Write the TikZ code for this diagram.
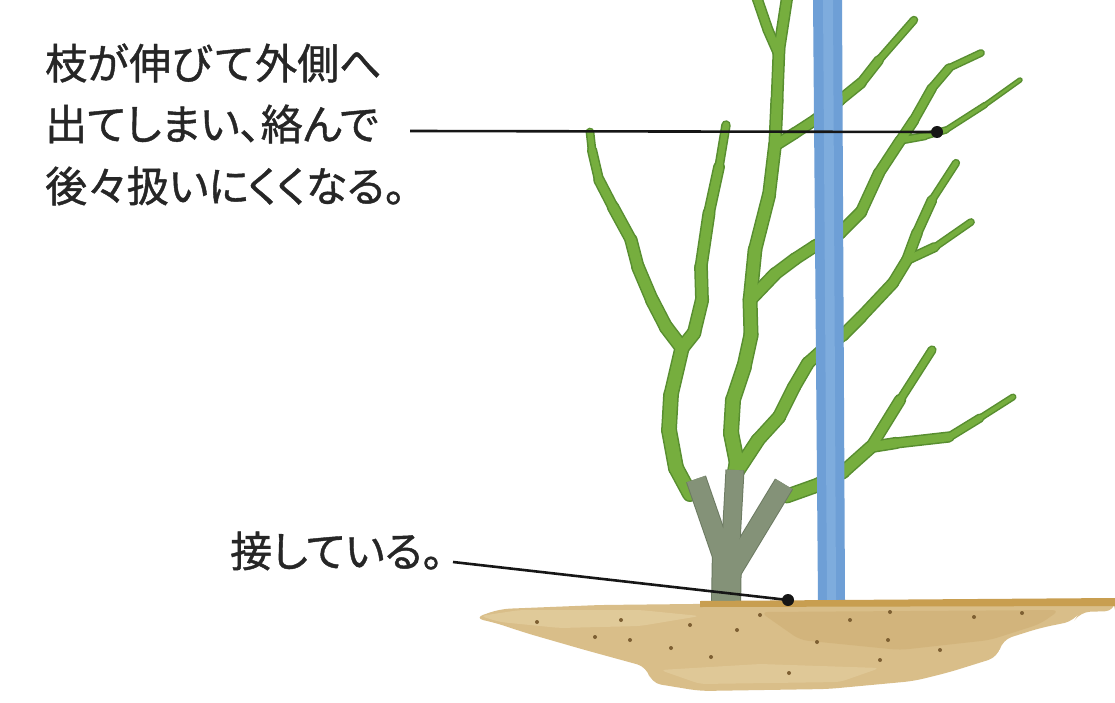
\documentclass[tikz,border=0pt]{standalone}
\usepackage{fontspec}
\newfontfamily\jpfont[FakeBold=1]{Noto Sans CJK JP}
\newfontfamily\jppfont[RawFeature=+palt,FakeBold=1]{Noto Sans CJK JP}

\definecolor{stemgreen}{RGB}{118,174,62}
\definecolor{stemdark}{RGB}{88,142,48}
\definecolor{trunkgrey}{RGB}{132,146,120}
\definecolor{trunkdark}{RGB}{108,122,98}
\definecolor{poleblue}{RGB}{110,159,214}
\definecolor{polelight}{RGB}{146,188,230}
\definecolor{soil}{RGB}{217,190,137}
\definecolor{soillight}{RGB}{230,210,165}
\definecolor{soildeep}{RGB}{204,172,112}
\definecolor{soilrim}{RGB}{200,158,80}
\definecolor{speck}{RGB}{125,95,50}
\definecolor{ink}{RGB}{22,22,22}
\definecolor{textgrey}{RGB}{38,38,38}

% a tapering stem: list of x/y/width, drawn segment by segment
\newcommand\stemline[3]{%
  \foreach \x/\y/\w [remember=\x as \px (initially 0),
                     remember=\y as \py (initially 0),
                     remember=\w as \pw (initially 0), count=\i] in #3 {%
    \ifnum\i>1
      \draw[#2, line cap=round, line join=round,
            line width={(\pw+\w)/2+#1}] (\px,\py) -- (\x,\y);
    \fi
  }}

% branch data (x/y/width)
\def\brLeft{690/494/13, 676/468/13, 669/430/13, 671/395/12.5, 682/348/12}
\def\brLL{682/348/12, 666/327/11.5, 652/300/11, 638/267/10.5, 631/240/10, 613/207/9, 599/180/8, 592/150/6.5, 590/132/5}
\def\brLR{682/348/12, 694/333/11.5, 702/300/11, 701/267/10.5, 709/213/9.5, 719/167/8, 726/125/5}
\def\brMid{735/474/14, 737/463/13.5, 731/433/13, 733/400/13, 744/367/12.5, 751/335/12, 750/300/12, 755/250/11.5, 769/195/11, 775/145/10.5, 777/100/10, 779/50/9.5, 787/-2/9}
\def\brTop{779/55/8, 768/30/8, 757/-2/8}
\def\brOne{752/298/11, 775/274/10.5, 795/259/10, 815/246/10, 840/233/10, 861/212/9.5, 879/173/9, 900/141/8.5, 914/120/8, 932/88/7, 949/68/6, 981/53/3.5}
\def\brTwig{903/140/6, 925/136/5, 946/130/4, 985/105/3, 1020/80/2}
\def\brTwo{776/145/9.5, 795/133/9, 815/120/9, 840/100/9, 861/83/8, 879/60/7, 914/20/4}
\def\brThree{737/472/12, 758/440/11.5, 779/417/11, 794/387/11, 808/363/10.5, 828/345/10, 843/335/10, 861/317/9.5, 893/283/9, 907/260/9}
\def\brThreeUp{907/260/9, 917/233/8.5, 932/200/7, 956/163/3.5}
\def\brThreeRt{907/260/8, 935/247/6.5, 971/222/3}
\def\brFour{787/496/12, 815/486/11.5, 843/472/11, 871/447/10.5}
\def\brFourUp{871/447/10, 900/400/8.5, 932/350/4}
\def\brFourRt{871/447/9.5, 896/443/9, 949/437/7.5, 980/418/5, 1013/397/3}

\newcommand\allbranches[2]{%
  \stemline{#1}{#2}{\brLeft}\stemline{#1}{#2}{\brLL}\stemline{#1}{#2}{\brLR}%
  \stemline{#1}{#2}{\brMid}\stemline{#1}{#2}{\brTop}%
  \stemline{#1}{#2}{\brOne}\stemline{#1}{#2}{\brTwig}\stemline{#1}{#2}{\brTwo}%
  \stemline{#1}{#2}{\brThree}\stemline{#1}{#2}{\brThreeUp}\stemline{#1}{#2}{\brThreeRt}%
  \stemline{#1}{#2}{\brFour}\stemline{#1}{#2}{\brFourUp}\stemline{#1}{#2}{\brFourRt}}

\begin{document}
\begin{tikzpicture}[x=1pt,y=-1pt,
  leader/.style={draw=ink, line width=2.6pt},
  dot/.style={circle, fill=ink, inner sep=0pt, minimum size=12pt},
  label/.style={anchor=west, inner sep=0pt, text=textgrey, font=\fontsize{42}{42}\selectfont},
  stub/.style={line cap=butt}]
\useasboundingbox (0,0) rectangle (1115,703);
\fill[white] (0,0) rectangle (1115,703);

% green shoots: rim first, then body
\allbranches{3}{stemdark}
\allbranches{0}{stemgreen}

% grey stock and cut stubs
\begin{scope}[stub]
  \draw[trunkdark, line width=30] (726,606) -- (727,548);
  \draw[trunkdark, line width=21] (724,560) -- (696,479);
  \draw[trunkdark, line width=19] (730,560) -- (735,470);
  \draw[trunkdark, line width=21] (732,570) -- (784,484);
  \draw[trunkgrey, line width=28] (726,606) -- (727,548);
  \draw[trunkgrey, line width=19] (724,560) -- (696,479);
  \draw[trunkgrey, line width=17] (730,560) -- (735,470);
  \draw[trunkgrey, line width=19] (732,570) -- (784,484);
\end{scope}

% support pole
\fill[poleblue] (813,-2) -- (842,-2) -- (845,602) -- (818,603) -- cycle;
\fill[polelight, opacity=0.45] (823,-2) -- (833,-2) -- (836,600) -- (827,600) -- cycle;

% soil
\fill[soil, rounded corners=10] (474,618) -- (500,609) -- (600,605) -- (785,603)
  -- (1115,600) -- (1115,611) -- (1080,612) -- (1074,621) -- (1040,628)
  -- (1002,640) -- (998,657) -- (950,672) -- (914,681) -- (828,689)
  -- (700,691) -- (651,683) -- (647,667) -- (585,650) -- (526,633)
  -- (496,623) -- cycle;
\fill[soillight, opacity=0.6, rounded corners=6] (480,616) -- (520,610) -- (640,610)
  -- (700,616) -- (640,626) -- (560,628) -- (500,622) -- cycle;
\fill[soildeep, opacity=0.5, rounded corners=8] (760,612) -- (1060,610) -- (1040,624)
  -- (990,640) -- (900,650) -- (800,640) -- cycle;
\fill[soillight, opacity=0.5, rounded corners=6] (660,670) -- (760,664) -- (880,668)
  -- (840,682) -- (700,684) -- cycle;
\fill[soilrim] (700,601) -- (1115,598) -- (1115,606) -- (700,607) -- cycle;
\foreach \sx/\sy in {537/622, 621/620, 630/640, 671/648, 737/630, 711/657,
  817/642, 890/612, 888/640, 974/617, 880/660, 940/650, 789/673, 595/637,
  1022/613, 850/620, 760/615, 690/625}
  \fill[speck] (\sx,\sy) circle (2);

% callouts
\node[dot] (d1) at (937,132) {};
\coordinate (s1) at (410,131);
\draw[leader] (s1) -- (d1.center);
\node[dot] (d2) at (788,600) {};
\coordinate (s2) at (453,562);
\draw[leader] (s2) -- (d2.center);

\node[label] (t1) at (45,63) {\jpfont 枝が伸びて外側へ};
\node[label] (t2) at (45,124) {\jppfont 出てしまい、絡んで};
\node[label] (t3) at (45,186) {\jppfont 後々扱いにくくなる。};
\node[label] (t4) at (230,551) {\jppfont 接している。};
\end{tikzpicture}
\end{document}
